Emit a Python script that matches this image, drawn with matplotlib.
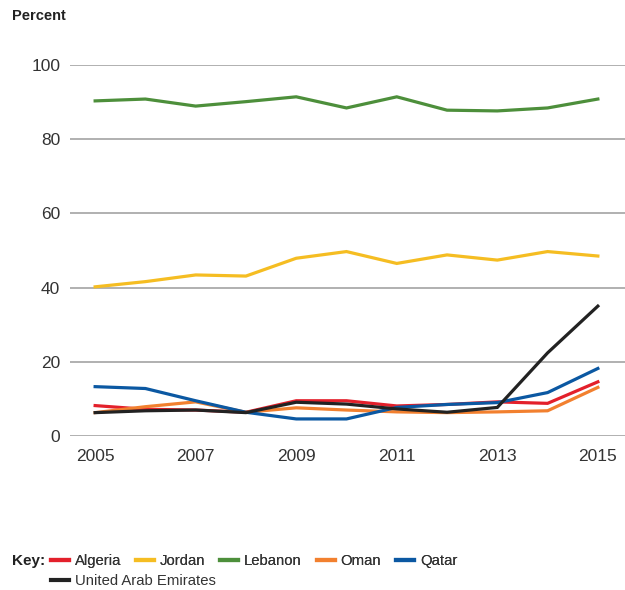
import matplotlib
matplotlib.use("Agg")
import matplotlib.pyplot as plt

plt.rcParams['font.family'] = ['Liberation Sans', 'DejaVu Sans']

years = list(range(2005, 2016))
algeria = [8.2, 7.2, 7.0, 6.4, 9.5, 9.5, 8.1, 8.5, 9.2, 8.8, 14.6]
jordan = [40.2, 41.6, 43.4, 43.1, 47.9, 49.7, 46.5, 48.8, 47.4, 49.7, 48.5]
lebanon = [90.3, 90.8, 88.9, 90.1, 91.4, 88.4, 91.4, 87.8, 87.6, 88.4, 90.8]
oman = [6.3, 7.9, 9.2, 6.4, 7.6, 7.0, 6.5, 6.3, 6.5, 6.8, 13.1]
qatar = [13.3, 12.8, 9.5, 6.4, 4.6, 4.6, 7.7, 8.5, 9.0, 11.7, 18.2]
uae = [6.3, 6.8, 7.0, 6.3, 9.1, 8.6, 7.3, 6.4, 7.7, 22.4, 35.0]

series = [("Algeria", algeria, "#e3202b"),
          ("Jordan", jordan, "#f5bd22"),
          ("Lebanon", lebanon, "#4d8f3b"),
          ("Oman", oman, "#f2802f"),
          ("Qatar", qatar, "#0b58a2"),
          ("United Arab Emirates", uae, "#222222")]

yticks = [0, 20, 40, 60, 80, 100]
xticks = [2005, 2007, 2009, 2011, 2013, 2015]

fig = plt.figure(figsize=(6.25, 5.9), dpi=100)
ax = fig.add_axes([0.112, 0.261, 0.888, 0.629])

lines = []
for name, vals, col in series:
    ln, = ax.plot(years, vals, color=col, lw=2.3, label=name, clip_on=False,
                  solid_joinstyle='miter', zorder=3)
    lines.append(ln)

ax.set_xlim(2004.5, 2015.54)
ax.set_ylim(0, 100)
ax.set_yticks(yticks)
ax.set_xticks(xticks)
ax.grid(axis='y', color='#a3a3a3', lw=1.2)
ax.set_axisbelow(True)
for s in ax.spines.values():
    s.set_visible(False)
ax.tick_params(length=0, labelsize=12.5, labelcolor='#333333')
ax.tick_params(axis='y', pad=7)
ax.tick_params(axis='x', pad=9)

fig.text(0.019, 0.973, "Percent", fontsize=10.5, fontweight='bold',
         color='#222222', va='center')
fig.text(0.019, 0.049, "Key:", fontsize=11, fontweight='bold',
         color='#222222', va='center')

kw = dict(frameon=False, fontsize=10.7, handlelength=1.2,
          handletextpad=0.4, borderpad=0, borderaxespad=0)
leg1 = fig.legend(lines[:5], [s[0] for s in series[:5]], ncol=5,
                  loc='center left', bbox_to_anchor=(0.082, 0.049),
                  columnspacing=1.0, **kw)
leg2 = fig.legend(lines[5:], [series[5][0]], loc='center left',
                  bbox_to_anchor=(0.082, 0.015), **kw)
for leg in (leg1, leg2):
    for t in leg.get_texts():
        t.set_color('#333333')
    for h in leg.legend_handles:
        h.set_linewidth(3)
fig.add_artist(leg1)

fig.savefig("out.png", dpi=100)
